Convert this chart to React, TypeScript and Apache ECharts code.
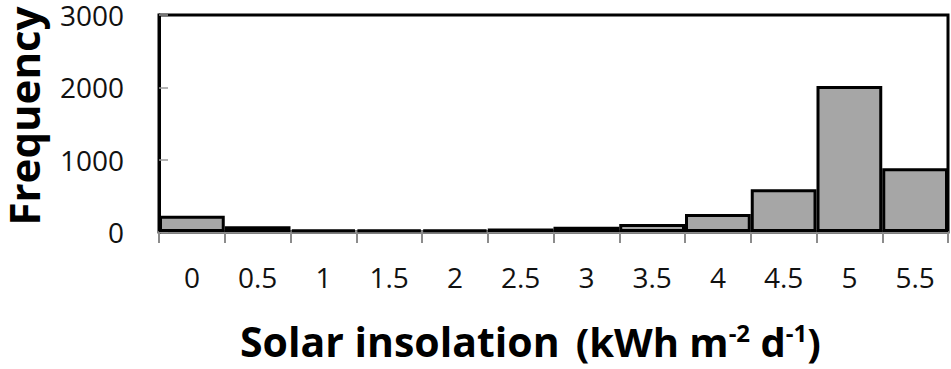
import React, { useEffect, useRef } from "react";
import * as echarts from "echarts";

const categories = ["0", "0.5", "1", "1.5", "2", "2.5", "3", "3.5", "4", "4.5", "5", "5.5"];
const frequencies = [225, 80, 35, 32, 32, 50, 74, 110, 250, 590, 2020, 880];
const yTicks = { min: 0, max: 3000, interval: 1000 };

export default function App() {
  const ref = useRef<HTMLDivElement>(null);
  useEffect(() => {
    const chart = echarts.init(ref.current!, null, { renderer: "svg" });
    const font = "Open Sans";
    chart.setOption({
      animation: false,
      grid: {
        left: 159,
        right: 3,
        top: 15,
        bottom: 137,
        show: true,
        borderColor: "#000",
        borderWidth: 3,
        backgroundColor: "transparent",
        outerBoundsMode: "none",
        containLabel: false,
      },
      xAxis: {
        type: "category",
        data: categories,
        boundaryGap: true,
        axisLine: { lineStyle: { color: "#8c8c8c", width: 2 } },
        axisTick: { show: true, length: 11, lineStyle: { color: "#8c8c8c", width: 2 } },
        axisLabel: { color: "#111", fontSize: 28, lineHeight: 30, fontFamily: font, margin: 30 },
      },
      yAxis: {
        type: "value",
        min: yTicks.min,
        max: yTicks.max,
        interval: yTicks.interval,
        axisLine: { show: true, lineStyle: { color: "#000", width: 3 } },
        axisTick: { show: true, inside: true, length: 9, lineStyle: { color: "#9a9a9a", width: 1.5 } },
        axisLabel: {
          color: "#111",
          fontSize: 28,
          lineHeight: 24,
          fontFamily: font,
          margin: 35,
          formatter: (v: number) => String(v),
        },
        splitLine: { show: false },
      },
      series: [
        {
          type: "bar",
          data: frequencies,
          barCategoryGap: "0%",
          itemStyle: { color: "#a6a6a6", borderColor: "#000", borderWidth: 3 },
        },
      ],
      graphic: [
        {
          type: "text",
          x: 23,
          y: 116,
          rotation: Math.PI / 2,
          style: {
            text: "Frequency",
            align: "center",
            verticalAlign: "middle",
            fontSize: 42,
            lineHeight: 40,
            fontWeight: "bold",
            fontFamily: font,
            fill: "#000",
          },
        },
        {
          type: "text",
          x: 240,
          y: 341,
          style: {
            text: "{b|Solar insolation}{p|(kWh m}{s|-2}{p| d}{s|-1}{p|)}",
            align: "left",
            verticalAlign: "middle",
            rich: {
              b: { fontSize: 41, lineHeight: 42, fontWeight: "bold", fontFamily: font, fill: "#000", padding: [0, 16, 0, 0] },
              p: { fontSize: 40, lineHeight: 42, fontWeight: "bold", fontFamily: font, fill: "#000" },
              s: { fontSize: 24, lineHeight: 24, fontWeight: "bold", fontFamily: font, fill: "#000", verticalAlign: "top", padding: [0, 0, 18, 0] },
            },
          },
        },
      ],
    });
    return () => chart.dispose();
  }, []);
  return <div ref={ref} style={{ width: 951, height: 369, position: "absolute", left: 0, top: 0 }} />;
}
